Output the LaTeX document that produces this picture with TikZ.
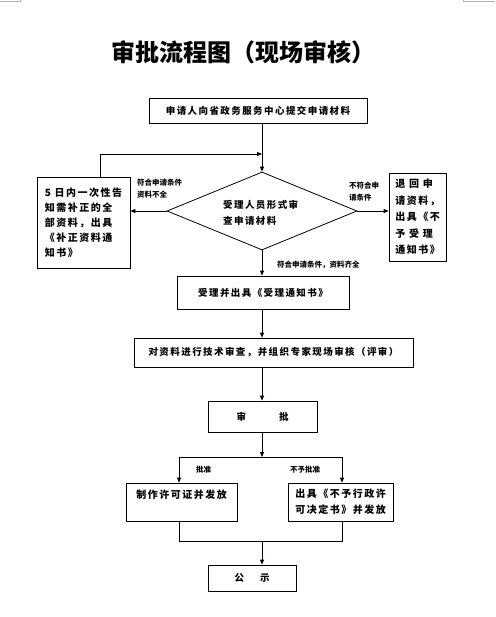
\documentclass[tikz,border=0pt]{standalone}
\usepackage{fontspec}
\usetikzlibrary{shapes.geometric,arrows.meta}
\newfontfamily\cjk{Noto Sans CJK SC}
\newfontfamily\cjksp{Noto Sans CJK SC}[LetterSpace=15]
\begin{document}
\begin{tikzpicture}[x=1pt,y=-1pt,
  box/.style={draw,line width=0.8pt,inner sep=0pt,font=\cjksp\bfseries\fontsize{9.5}{16}\selectfont,align=center},
  lbl/.style={inner sep=0pt,anchor=west,font=\cjk\bfseries\fontsize{7.5}{12}\selectfont,align=left},
  arr/.style={line width=0.8pt,-{Triangle[length=5pt,width=4pt]}},
  ln/.style={line width=0.8pt}]
\useasboundingbox (0,0) rectangle (495,617);
\fill[white] (0,0) rectangle (495,617);
% corner marks
\draw[gray!60,line width=0.4pt] (0,1) -- (20,1) -- (20,0);
\draw[gray!60,line width=0.4pt] (495,1) -- (463,1) -- (463,0);
% title
\node[font=\cjk\bfseries\fontsize{24}{28}\selectfont,inner sep=0pt] (title) at (243,52) {审批流程图（现场审核）};
% boxes
\node[box,minimum width=218pt,minimum height=25pt] (b1) at (258,110.5) {申请人向省政务服务中心提交申请材料};
\node[diamond,draw,line width=0.8pt,minimum width=190pt,minimum height=78pt,inner sep=0pt] (d) at (262,211) {};
\node[inner sep=0pt,anchor=west,font=\cjksp\bfseries\fontsize{9.5}{16}\selectfont,align=left] (dt) at (223,213) {受理人员形式审\\查申请材料};
\node[box,minimum width=93pt,minimum height=91pt,align=left,font=\cjksp\bfseries\fontsize{10}{15}\selectfont] (lb) at (83.5,222.5) {5 日内一次性告\\知需补正的全\\部资料，出具\\《补正资料通\\知书》};
\node[box,minimum width=57pt,minimum height=88pt,align=left,font=\cjksp\bfseries\fontsize{10}{16.5}\selectfont] (rb) at (417.5,217) {退 回 申\\请资料，\\出具《不\\予 受 理\\通知书》};
\node[box,minimum width=172pt,minimum height=33pt] (b2) at (263,292.5) {受理并出具《受理通知书》};
\node[box,minimum width=279pt,minimum height=29pt] (b3) at (273.5,352.5) {对资料进行技术审查，并组织专家现场审核（评审）};
\node[box,minimum width=109pt,minimum height=31pt] (b4) at (262.5,416.5) {审\hspace{33pt}批};
\node[box,minimum width=111pt,minimum height=38pt,font=\cjksp\bfseries\fontsize{10}{16}\selectfont] (lb2) at (181.5,502) {制作许可证并发放\\\mbox{}};
\node[box,minimum width=105pt,minimum height=38pt,font=\cjksp\bfseries\fontsize{10}{16}\selectfont] (rb2) at (340.5,502) {出具《不予行政许\\可决定书》并发放};
\node[box,minimum width=88pt,minimum height=26pt] (b5) at (252,578) {公\hspace{16pt}示};
% labels
\node[lbl] (l1) at (137,189) {符合申请条件\\资料不全};
\node[lbl] (l2) at (349,192) {不符合申\\请条件};
\node[lbl] (l3) at (277,265) {符合申请条件，资料齐全};
\node[lbl] (l4) at (196,470) {批准};
\node[lbl] (l5) at (290,470) {不予批准};
% coordinates
\coordinate (j) at (262,154);
\coordinate (lbt) at (100,154);
\coordinate (sp) at (262,457);
\coordinate (sl) at (179,457);
\coordinate (sr) at (342,457);
\coordinate (ml) at (179,541);
\coordinate (mr) at (342,541);
\coordinate (mc) at (262,541);
% connectors
\draw[ln] (b1.south -| j) -- (j);
\draw[arr] (j) -- (d.north);
\draw[arr] (lbt |- lb.north) -- (lbt) -- (j);
\draw[arr] (d.west) -- (lb.east |- d.west);
\draw[arr] (d.east) -- (rb.west |- d.east);
\draw[arr] (d.south) -- (b2.north -| d.south);
\draw[arr] (b2.south -| d.south) -- (b3.north -| d.south);
\draw[arr] (b3.south -| d.south) -- (b4.north -| d.south);
\draw[arr] (b4.south -| sp) -- (sp);
\draw[ln] (sl) -- (sr);
\draw[arr] (sl) -- (lb2.north -| sl);
\draw[arr] (sr) -- (rb2.north -| sr);
\draw[ln] (lb2.south -| ml) -- (ml) -- (mr) -- (rb2.south -| mr);
\draw[arr] (mc) -- (b5.north -| mc);
\end{tikzpicture}
\end{document}
